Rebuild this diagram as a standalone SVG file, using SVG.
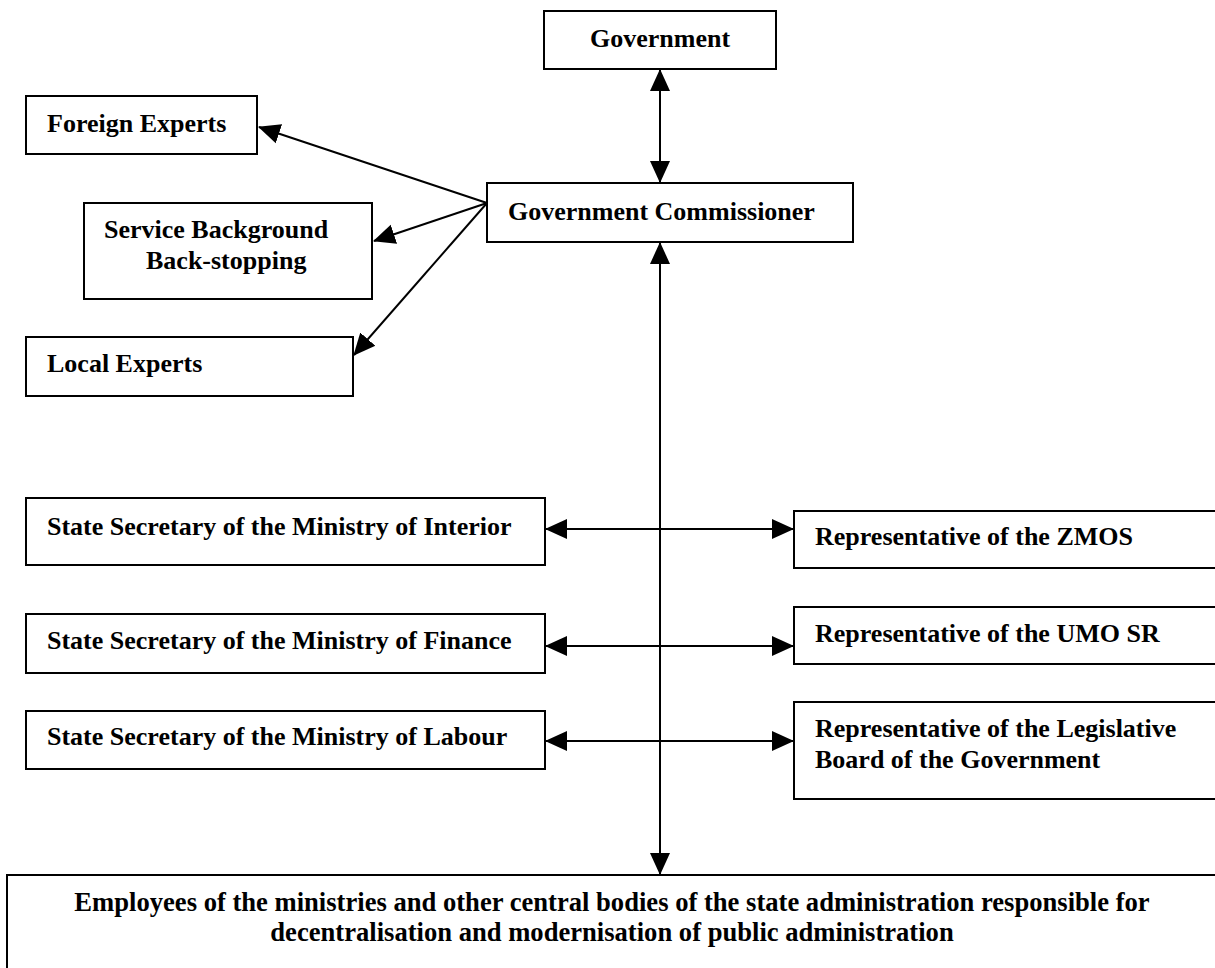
<svg xmlns="http://www.w3.org/2000/svg" width="1215" height="968" viewBox="0 0 1215 968">
<style>
.box{fill:#fff;stroke:#000;stroke-width:2}
.t{font-family:"Liberation Serif","Times New Roman",serif;font-weight:bold;font-size:26px;fill:#000}
.b{font-size:26.6px}
.c{stroke:#000;stroke-width:2;fill:none;marker-end:url(#ah);marker-start:url(#ah)}
.e{stroke:#000;stroke-width:2;fill:none;marker-end:url(#ah)}
</style>
<defs>
<marker id="ah" markerUnits="userSpaceOnUse" markerWidth="22" markerHeight="22" viewBox="0 0 22 20" refX="21" refY="10" orient="auto-start-reverse">
<path d="M0,0 L22,10 L0,20 z" fill="#000"/>
</marker>
</defs>
<rect width="1215" height="968" fill="#fff"/>
<g id="government"><rect class="box" x="544" y="11" width="232" height="58"/><text class="t" x="660" y="47" text-anchor="middle">Government</text></g>
<g id="commissioner"><rect class="box" x="487" y="183" width="366" height="59"/><text class="t" x="508" y="220">Government Commissioner</text></g>
<g id="foreign"><rect class="box" x="26" y="96" width="231" height="58"/><text class="t" x="47" y="132">Foreign Experts</text></g>
<g id="service"><rect class="box" x="84" y="203" width="288" height="96"/><text class="t" x="104" y="238">Service Background</text><text class="t" x="146" y="269">Back-stopping</text></g>
<g id="local"><rect class="box" x="26" y="337" width="327" height="59"/><text class="t" x="47" y="372">Local Experts</text></g>
<g id="interior"><rect class="box" x="26" y="498" width="519" height="67"/><text class="t" x="47" y="535">State Secretary of the Ministry of Interior</text></g>
<g id="finance"><rect class="box" x="26" y="614" width="519" height="59"/><text class="t" x="47" y="649">State Secretary of the Ministry of Finance</text></g>
<g id="labour"><rect class="box" x="26" y="711" width="519" height="58"/><text class="t" x="47" y="745">State Secretary of the Ministry of Labour</text></g>
<g id="zmos"><rect class="box" x="794" y="511" width="430" height="57"/><text class="t" x="815" y="545">Representative of the ZMOS</text></g>
<g id="umo"><rect class="box" x="794" y="607" width="430" height="57"/><text class="t" x="815" y="642">Representative of the UMO SR</text></g>
<g id="legislative"><rect class="box" x="794" y="702" width="430" height="97"/><text class="t" x="815" y="737">Representative of the Legislative</text><text class="t" x="815" y="768">Board of the Government</text></g>
<g id="employees"><rect class="box" x="7" y="875" width="1220" height="110"/><text class="t b" x="612" y="911" text-anchor="middle">Employees of the ministries and other central bodies of the state administration responsible for</text><text class="t b" x="612" y="941" text-anchor="middle">decentralisation and modernisation of public administration</text></g>
<g id="connectors">
<line class="c" x1="660" y1="70" x2="660" y2="182"/>
<line class="c" x1="660" y1="243" x2="660" y2="874"/>
<line class="c" x1="546" y1="529" x2="793" y2="529"/>
<line class="c" x1="546" y1="646" x2="793" y2="646"/>
<line class="c" x1="546" y1="741" x2="793" y2="741"/>
<line class="e" x1="487" y1="203" x2="259" y2="127"/>
<line class="e" x1="487" y1="203" x2="374" y2="241"/>
<line class="e" x1="487" y1="203" x2="354" y2="355"/>
</g>
</svg>
